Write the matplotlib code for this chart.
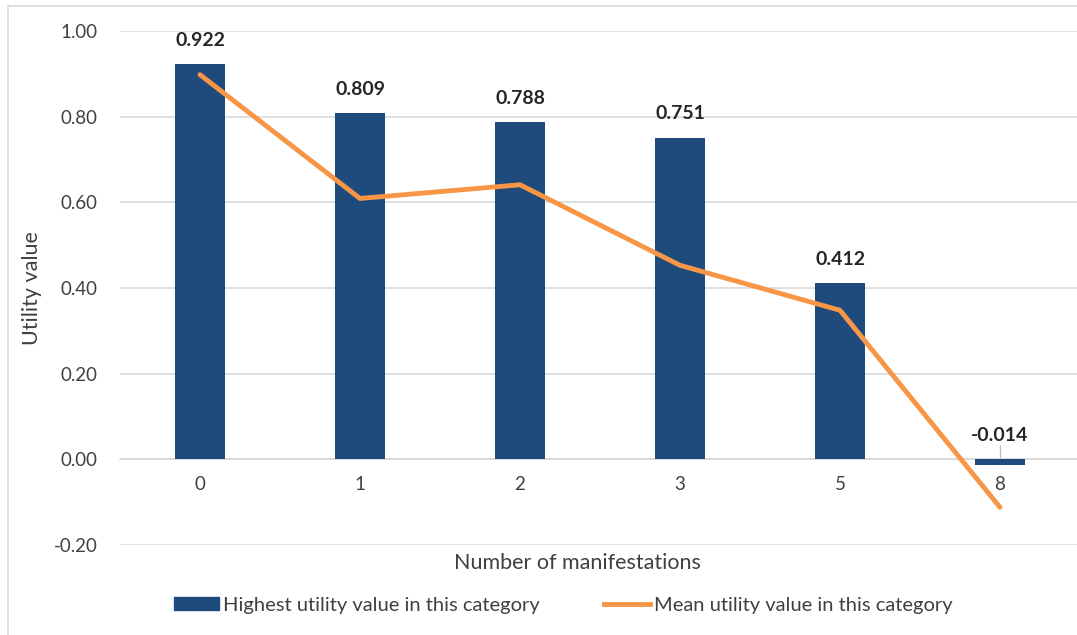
import matplotlib.pyplot as plt
from matplotlib.patches import Rectangle
from matplotlib.lines import Line2D

# Utility values by number of manifestations
categories = ["0", "1", "2", "3", "5", "8"]
highest_utility = [0.922, 0.809, 0.788, 0.751, 0.412, -0.014]
mean_utility = [0.898, 0.609, 0.641, 0.453, 0.348, -0.112]
y_ticks = [-0.2, 0.0, 0.2, 0.4, 0.6, 0.8, 1.0]

BAR_COLOR = "#1F4A7C"
LINE_COLOR = "#F79646"
GRID_COLOR = "#D9D9D9"
TEXT_COLOR = "#404040"

plt.rcParams["font.family"] = ["Lato", "DejaVu Sans"]

W, H = 1077, 635
fig = plt.figure(figsize=(W / 100, H / 100), dpi=100)

# light chart-area border
fig.patches.append(Rectangle((8 / W, -0.1), 1.2, (H - 6) / H + 0.1,
                             transform=fig.transFigure, fill=False,
                             edgecolor="#D9D9D9", linewidth=1.2))

ax = fig.add_axes([120 / W, 90 / H, 960 / W, 514 / H])
x = list(range(len(categories)))

ax.bar(x, highest_utility, width=0.31, color=BAR_COLOR, zorder=3)
ax.plot(x, mean_utility, color=LINE_COLOR, linewidth=3.5,
        solid_capstyle="round", solid_joinstyle="round", zorder=4)

for xi, v in zip(x, highest_utility):
    ax.annotate(f"{v:.3f}", (xi, max(v, 0)), xytext=(0, 11),
                textcoords="offset points", ha="center", va="bottom",
                fontsize=14, fontweight="bold", color="#262626", zorder=5)

ax.set_xlim(-0.5, len(categories) - 0.5)
ax.set_ylim(-0.2, 1.0)
ax.set_yticks(y_ticks)
ax.set_yticklabels([f"{t:.2f}" for t in y_ticks])
ax.set_xticks(x)
ax.set_xticklabels(categories)

ax.grid(axis="y", color=GRID_COLOR, linewidth=1.2, zorder=0)
ax.set_axisbelow(True)
for side in ["top", "right", "left"]:
    ax.spines[side].set_visible(False)
ax.spines["bottom"].set_position(("data", 0))
ax.spines["bottom"].set_color(GRID_COLOR)
ax.spines["bottom"].set_linewidth(1.2)
ax.spines["bottom"].set_zorder(2)

ax.tick_params(axis="y", length=0, pad=16, labelsize=13.5, labelcolor=TEXT_COLOR)
ax.tick_params(axis="x", direction="in", length=10, color="#BFBFBF", width=1,
               pad=12, labelsize=13.5, labelcolor=TEXT_COLOR)

fig.text(32 / W, 1 - 288 / H, "Utility value", rotation=90, ha="center",
         va="center", fontsize=15.5, color=TEXT_COLOR)
fig.text(577 / W, 1 - 563 / H, "Number of manifestations", ha="center",
         va="center", fontsize=15.5, color=TEXT_COLOR)

handles = [
    Rectangle((0, 0), 1, 1, color=BAR_COLOR),
    Line2D([0], [0], color=LINE_COLOR, linewidth=3.5),
]
labels = ["Highest utility value in this category",
          "Mean utility value in this category"]
fig.legend(handles, labels, loc="center", bbox_to_anchor=(563 / W, 1 - 605 / H),
           ncol=2, frameon=False, fontsize=14.5, handlelength=2.25,
           handleheight=0.6, handletextpad=0.2, columnspacing=3.2,
           labelcolor=TEXT_COLOR)

fig.savefig("out.png", dpi=100)
